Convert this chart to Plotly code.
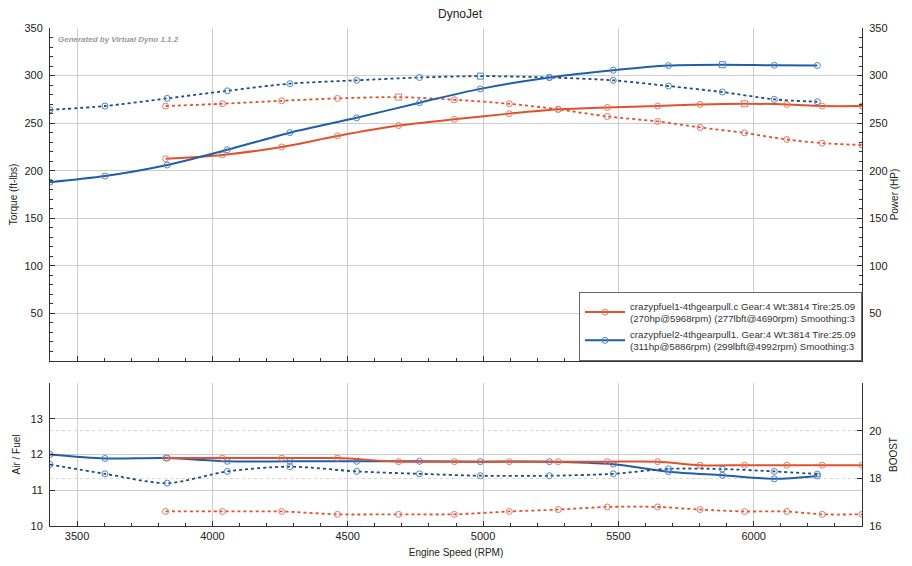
import plotly.graph_objects as go

# run 1 (red) - crazypfuel1
rpm_1 = [3827, 4037, 4256, 4462, 4688, 4894, 5097, 5278, 5459, 5645, 5802, 5966, 6122, 6253, 6400]
hp_1 = [212.6, 216.6, 225, 236.6, 247.5, 254, 260, 264.5, 266.5, 268, 269.7, 270.4, 269.7, 268, 268]
tq_1 = [268, 270.4, 273.5, 276, 277.4, 274.6, 270.4, 264.5, 257, 251.8, 245.5, 239.8, 232.8, 229, 227]
afr_1 = [11.9, 11.9, 11.9, 11.9, 11.8, 11.8, 11.8, 11.8, 11.8, 11.8, 11.7, 11.7, 11.7, 11.7, 11.7]
boost_1 = [16.61, 16.61, 16.61, 16.49, 16.49, 16.49, 16.61, 16.69, 16.8, 16.8, 16.69, 16.61, 16.61, 16.49, 16.49]

# run 2 (blue) - crazypfuel2
rpm_2 = [3400, 3603, 3833, 4055, 4286, 4533, 4765, 4990, 5245, 5481, 5685, 5884, 6076, 6235]
hp_2 = [188, 194.4, 206, 222, 240, 255.6, 271.5, 286, 298, 305.6, 310.5, 311.4, 310.8, 310.6]
tq_2 = [264, 268, 276, 284, 291.5, 295, 298, 299.4, 298, 295, 289, 282.7, 275, 272.5]
afr_2 = [12.0, 11.89, 11.9, 11.81, 11.81, 11.81, 11.81, 11.8, 11.8, 11.73, 11.52, 11.42, 11.32, 11.4]
boost_2 = [18.58, 18.19, 17.8, 18.29, 18.49, 18.29, 18.19, 18.11, 18.11, 18.19, 18.4, 18.39, 18.29, 18.18]

legend_1 = "crazypfuel1-4thgearpull.c Gear:4 Wt:3814 Tire:25.09<br>(270hp@5968rpm) (277lbft@4690rpm) Smoothing:3"
legend_2 = "crazypfuel2-4thgearpull1. Gear:4 Wt:3814 Tire:25.09<br>(311hp@5886rpm) (299lbft@4992rpm) Smoothing:3"

rpm_ticks = [3500, 4000, 4500, 5000, 5500, 6000]
torque_ticks = [50, 100, 150, 200, 250, 300, 350]
afr_ticks = [10, 11, 12, 13]
boost_ticks = [16, 18, 20]

RED = "#e4502c"
RED_MK = "#e07a66"
BLUE = "#1f5ea8"
BLUE_DOT = "#1b4a86"
BLUE_MK = "#4f83c4"
FONT = "Liberation Sans, Arial, sans-serif"


def peak_symbols(vals, mark_peak=True):
    i = vals.index(max(vals))
    return ["square-open" if (k == i and mark_peak) else "circle-open" for k in range(len(vals))]


def curve(x, y, color, mkcolor, dash, xa, ya, name=None, legend=False, peak=False):
    return go.Scatter(
        x=x, y=y, mode="lines+markers", name=name, showlegend=legend,
        xaxis=xa, yaxis=ya,
        line=dict(color=color, width=2 if dash == "solid" else 1.8, dash=dash,
                  shape="spline", smoothing=0.8),
        marker=dict(symbol=peak_symbols(y, peak), size=6, color=mkcolor,
                    line=dict(color=mkcolor, width=1)),
    )


fig = go.Figure()
# top panel: HP solid (right axis), torque dotted (left axis)
fig.add_trace(curve(rpm_1, hp_1, RED, RED_MK, "solid", "x", "y2", legend_1, True, True))
fig.add_trace(curve(rpm_2, hp_2, BLUE, BLUE_MK, "solid", "x", "y2", legend_2, True, True))
fig.add_trace(curve(rpm_1, tq_1, RED, RED_MK, "dot", "x", "y", peak=True))
fig.add_trace(curve(rpm_2, tq_2, BLUE_DOT, BLUE_MK, "dot", "x", "y", peak=True))
# bottom panel: AFR solid (left), boost dotted (right)
fig.add_trace(curve(rpm_2, afr_2, BLUE, BLUE_MK, "solid", "x2", "y3"))
fig.add_trace(curve(rpm_1, afr_1, RED, RED_MK, "solid", "x2", "y3"))
fig.add_trace(curve(rpm_2, boost_2, BLUE_DOT, BLUE_MK, "dot", "x2", "y4"))
fig.add_trace(curve(rpm_1, boost_1, RED, RED_MK, "dot", "x2", "y4"))

top_dom = [0.3313, 1.0]
bot_dom = [0.0, 0.2871]
grid = "#cdcdcd"
axcol = "#333333"
tickfont = dict(family=FONT, size=11, color="#222222")
titlefont = dict(family=FONT, size=10, color="#222222")

xcommon = dict(range=[3400, 6400], showline=True, linecolor=axcol, linewidth=1,
               ticks="inside", ticklen=5, tickcolor=axcol, tickvals=rpm_ticks,
               minor=dict(dtick=100, tick0=3400, ticks="inside", ticklen=3, tickcolor=axcol),
               showgrid=True, gridcolor=grid, zeroline=False, tickfont=tickfont,
               automargin=False)
# top-edge helper axes (light border line with dark ticks)
xtop = dict(range=[3400, 6400], side="top", showline=True, linecolor="#c4c4c4", linewidth=2,
            ticks="inside", ticklen=5, tickcolor=axcol, tickvals=rpm_ticks,
            minor=dict(dtick=100, tick0=3400, ticks="inside", ticklen=3, tickcolor=axcol),
            showticklabels=False, showgrid=False, zeroline=False, automargin=False)
ycommon = dict(showline=True, linecolor=axcol, ticks="inside", ticklen=5, tickcolor=axcol,
               zeroline=False, tickfont=tickfont, automargin=False, ticklabelstandoff=4)

# the page adds an 8px body margin, so the figure is drawn 8px smaller
fig.update_layout(
    width=904, height=558,
    margin=dict(l=42, r=50, t=20, b=40),
    paper_bgcolor="white", plot_bgcolor="white",
    font=dict(family=FONT, color="#222222"),
    title=dict(text="DynoJet", x=0.5, xanchor="center", y=1.0, yanchor="top",
               pad=dict(t=2), font=dict(family=FONT, size=12, color="#222222"),
               automargin=False),
    xaxis=dict(xcommon, anchor="y", showticklabels=False),
    xaxis2=dict(xcommon, anchor="y3",
                title=dict(text="Engine Speed (RPM)", font=titlefont, standoff=7)),
    xaxis3=dict(xtop, anchor="y", overlaying="x"),
    xaxis4=dict(xtop, anchor="y3", overlaying="x2"),
    yaxis=dict(ycommon, domain=top_dom, anchor="x", range=[0, 350], tickvals=torque_ticks,
               minor=dict(dtick=10, tick0=0, ticks="inside", ticklen=3, tickcolor=axcol),
               showgrid=True, gridcolor=grid,
               title=dict(text="Torque (ft-lbs)", font=titlefont, standoff=4)),
    yaxis2=dict(ycommon, overlaying="y", side="right", anchor="x", range=[0, 350],
                tickvals=torque_ticks,
                minor=dict(dtick=10, tick0=0, ticks="inside", ticklen=3, tickcolor=axcol),
                showgrid=False,
                title=dict(text="Power (HP)", font=titlefont, standoff=4)),
    yaxis3=dict(ycommon, domain=bot_dom, anchor="x2", range=[10, 14], tickvals=afr_ticks,
                showgrid=True, gridcolor=grid,
                title=dict(text="Air / Fuel", font=titlefont, standoff=8)),
    yaxis4=dict(ycommon, overlaying="y3", side="right", anchor="x2", range=[16, 22],
                tickvals=boost_ticks,
                showgrid=True, gridcolor="#d6d6d6", griddash="dot",
                title=dict(text="BOOST", font=titlefont, standoff=9)),
    legend=dict(x=1, xanchor="right", y=top_dom[0], yanchor="bottom",
                bgcolor="white", bordercolor="#666666", borderwidth=1,
                font=dict(family=FONT, size=9.7, color="#333333"),
                itemwidth=40, tracegroupgap=0),
    annotations=[dict(text="<i><b>Generated by Virtual Dyno 1.1.2</b></i>",
                      xref="x domain", yref="y domain", x=0.008, y=0.985,
                      xanchor="left", yanchor="top", showarrow=False,
                      font=dict(family=FONT, size=8, color="#9a9a9a"))],
)

fig.write_html("out.html")
